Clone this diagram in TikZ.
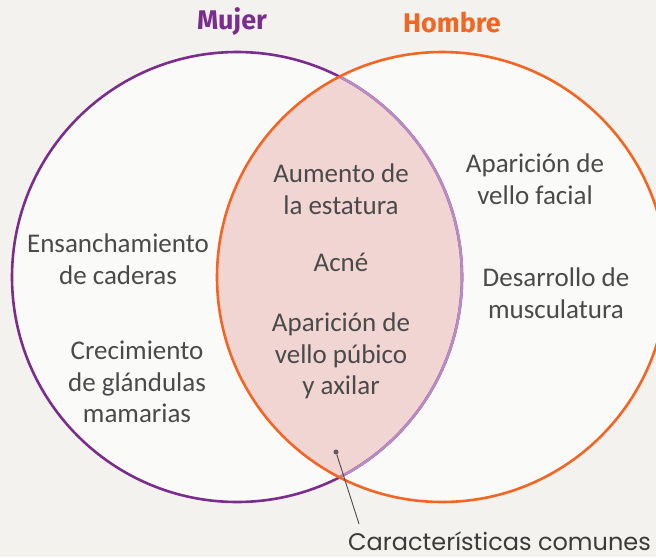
\documentclass[tikz,border=0pt]{standalone}
\usepackage{fontspec}
\setmainfont{Carlito}
\newfontfamily\titlefont{Fira Sans}
\newfontfamily\notefont{Poppins}
\usetikzlibrary{positioning}
\definecolor{fondo}{HTML}{F3F2EE}
\definecolor{blanco}{HTML}{FAFAF8}
\definecolor{rosa}{HTML}{F0D5D3}
\definecolor{morado}{HTML}{7B2D8E}
\definecolor{moradoclaro}{HTML}{B88CC2}
\definecolor{naranja}{HTML}{F26522}
\definecolor{texto}{HTML}{4A4A4A}

\begin{document}
\begin{tikzpicture}[x=1pt,y=-1pt,
    rasgo/.style={align=center,text=texto,inner sep=0pt,
      font=\fontsize{27}{31.5}\selectfont},
    titulo/.style={font=\titlefont\bfseries\fontsize{27}{30}\selectfont},
    borde/.style={line width=2.6pt}]
  \fill[fondo] (0,0) rectangle (656,557);
  \clip (0,0) rectangle (656,557);

  \coordinate (mujer) at (237,277);
  \coordinate (hombre) at (442,277);

  % circles and common area
  \fill[blanco] (mujer) circle[radius=225pt];
  \fill[blanco] (hombre) circle[radius=225pt];
  \begin{scope}
    \clip (mujer) circle[radius=225pt];
    \fill[rosa] (hombre) circle[radius=225pt];
  \end{scope}
  \draw[borde,morado] (mujer) circle[radius=225pt];
  \begin{scope}
    \clip (hombre) circle[radius=225pt];
    \draw[borde,moradoclaro] (mujer) circle[radius=225pt];
  \end{scope}
  \draw[borde,naranja] (hombre) circle[radius=225pt];

  % titles
  \node[titulo,text=morado] (tmujer) at (232,22) {Mujer};
  \node[titulo,text=naranja] (thombre) at (452,22) {Hombre};

  % traits
  \node[rasgo] (caderas) at (118,259) {Ensanchamiento\\de caderas};
  \node[rasgo] (mamas) at (137,382) {Crecimiento\\de glándulas\\mamarias};
  \node[rasgo] (estatura) at (341,189) {Aumento de\\la estatura};
  \node[rasgo] (acne) at (341,262) {Acné};
  \node[rasgo] (vello) at (341,356) {Aparición de\\vello púbico\\y axilar};
  \node[rasgo] (facial) at (535,179) {Aparición de\\vello facial};
  \node[rasgo] (musculo) at (556,293) {Desarrollo de\\musculatura};

  % pointer
  \node[circle,fill=texto!90,inner sep=0pt,minimum size=5pt] (punto) at (336,452) {};
  \coordinate (fin) at (359,524);
  \draw[texto,line width=0.9pt] (punto) -- (fin);
  \node[font=\notefont\fontsize{24}{26}\selectfont,text=texto!80!black,
    anchor=base west,inner sep=0pt] (comunes) at (348,550) {Características comunes};
\end{tikzpicture}
\end{document}
